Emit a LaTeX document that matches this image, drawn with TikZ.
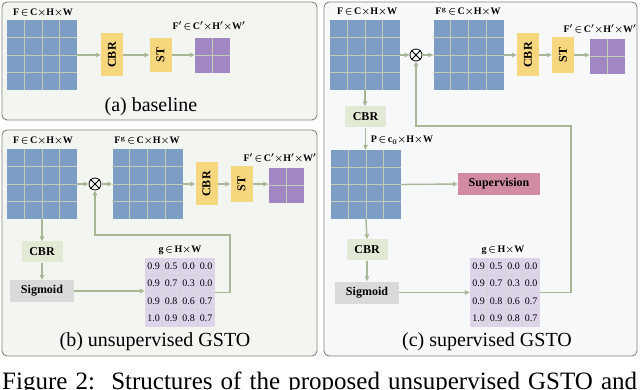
\documentclass[tikz,border=0pt]{standalone}
\usepackage{fontspec}
\setmainfont{Liberation Serif}
\usetikzlibrary{calc,arrows.meta}
\definecolor{blueC}{RGB}{124,157,196}
\definecolor{yellowC}{RGB}{246,215,125}
\definecolor{purpleC}{RGB}{160,135,195}
\definecolor{lpurpleC}{RGB}{221,212,234}
\definecolor{arrowC}{RGB}{168,184,150}
\definecolor{lgreenC}{RGB}{226,233,212}
\definecolor{sigC}{RGB}{218,218,218}
\definecolor{pinkC}{RGB}{210,140,162}
\definecolor{gridC}{RGB}{196,204,182}
\definecolor{gridP}{RGB}{200,200,200}
\definecolor{panelAB}{RGB}{243,245,240}
\definecolor{panelC}{RGB}{246,248,250}
\definecolor{borderC}{RGB}{128,136,122}
\newcommand\gridln[3]{%
  \foreach \k in {1,...,#3}{%
    \draw[line width=0.9pt,#2] ($(#1.north west)!\k/(#3+1)!(#1.north east)$) -- ($(#1.south west)!\k/(#3+1)!(#1.south east)$);
    \draw[line width=0.9pt,#2] ($(#1.north west)!\k/(#3+1)!(#1.south west)$) -- ($(#1.north east)!\k/(#3+1)!(#1.south east)$);
  }}
\newcommand\otimesnode[2]{%
  \node[circle,draw=black,line width=0.8pt,minimum size=12pt,inner sep=0] (#1) at #2 {};
  \draw[line width=0.8pt] (#1.45) -- (#1.225) (#1.135) -- (#1.-45);}
\newcommand\gvals[1]{%
  \foreach \row [count=\r] in {{0.9,0.5,0.0,0.0},{0.9,0.7,0.3,0.0},{0.9,0.8,0.6,0.7},{1.0,0.9,0.8,0.7}}{%
    \foreach \v [count=\c] in \row {%
      \node[numtxt] (#1-\r-\c) at ($(#1.north west)+(\c*17.5-8.75,\r*17.25-8.6)$) {\v};}}}
\newcommand\Fdim{F\,$\in$\,C$\times$H$\times$W}
\newcommand\Fgdim{F$^{\mathbf{g}}$\,$\in$\,C$\times$H$\times$W}
\newcommand\Fpdim{F$'$\,$\in$\,C$'\times$H$'\times$W$'$}
\tikzset{
  panel/.style={draw=borderC,line width=0.9pt,rounded corners=5pt,inner sep=0},
  bgrid/.style={fill=blueC,minimum width=70pt,minimum height=70pt,inner sep=0},
  pgrid/.style={fill=purpleC,minimum width=35pt,minimum height=35pt,inner sep=0},
  ggrid/.style={fill=lpurpleC,minimum width=70pt,minimum height=69pt,inner sep=0},
  ybox/.style={fill=yellowC,minimum width=22pt,inner sep=0,font=\fontsize{12}{14}\selectfont\bfseries},
  gbox/.style={fill=lgreenC,minimum width=41pt,minimum height=21pt,inner sep=0,font=\fontsize{12}{14}\selectfont\bfseries},
  sbox/.style={fill=sigC,minimum width=64pt,minimum height=22pt,inner sep=0,font=\fontsize{12}{14}\selectfont\bfseries},
  supbox/.style={fill=pinkC,minimum width=82pt,minimum height=22pt,inner sep=0,font=\fontsize{12}{14}\selectfont\bfseries},
  arr/.style={draw=arrowC,line width=1.4pt,-{Triangle[length=5pt,width=4.5pt]}},
  lbl/.style={inner sep=0,font=\fontsize{10}{12}\selectfont\bfseries\boldmath},
  numtxt/.style={inner sep=0,font=\fontsize{10}{12}\selectfont},
  captxt/.style={inner sep=0,font=\fontsize{20}{24}\selectfont},
}
\begin{document}
\begin{tikzpicture}[x=1pt,y=-1pt]
\useasboundingbox (0,0) rectangle (640,390);
\clip (0,0) rectangle (640,390);
% panels
\node[panel,fill=panelAB,minimum width=315pt,minimum height=118pt] (pa) at (159.5,61) {};
\node[panel,fill=panelAB,minimum width=315pt,minimum height=226pt] (pb) at (159.5,243) {};
\node[panel,fill=panelC,minimum width=313pt,minimum height=354pt] (pc) at (480.5,179) {};

% ---------- (a) baseline
\node[bgrid] (Fa) at (42,55) {}; \gridln{Fa}{gridC}{3}
\node[ybox,minimum height=43pt] (Ca) at (112,55) {\rotatebox{90}{CBR}};
\node[ybox,minimum height=34pt] (Sa) at (160.5,55) {\rotatebox{90}{ST}};
\node[pgrid] (Pa) at (212.5,55.5) {}; \gridln{Pa}{gridC}{1}
\node[lbl] (LFa) at (43,13) {\Fdim};
\node[lbl] (LPa) at (209,26) {\Fpdim};
\draw[arr] (Fa.east) -- (Ca.west);
\draw[arr] (Ca.east) -- (Sa.west);
\draw[arr] (Sa.east) -- (Sa.east -| Pa.west);
\node[captxt] (capa) at (151,107) {(a) baseline};

% ---------- (b) unsupervised
\node[bgrid] (Fb) at (42,184) {}; \gridln{Fb}{gridC}{3}
\otimesnode{ob}{(95,184)}
\node[bgrid] (Fgb) at (147.5,184) {}; \gridln{Fgb}{gridC}{3}
\node[ybox,minimum height=43pt] (Cb) at (206.5,184) {\rotatebox{90}{CBR}};
\node[ybox,minimum height=36pt] (Sb) at (241.5,184) {\rotatebox{90}{ST}};
\node[pgrid] (Pb) at (286,185.5) {}; \gridln{Pb}{gridC}{1}
\node[lbl] (LFb) at (43,141) {\Fdim};
\node[lbl] (LFgb) at (147,141) {\Fgdim};
\node[lbl] (LPb) at (280,158) {\Fpdim};
\node[gbox] (Gb) at (42,252) {CBR};
\node[sbox] (Sgb) at (42,291) {Sigmoid};
\node[ggrid] (gb) at (180,292.5) {}; \gridln{gb}{white!80!lpurpleC!70!gray}{3}
\gvals{gb}
\node[lbl] (Lgb) at (180,250) {g\,$\in$\,H$\times$W};
\draw[arr] (Fb.east) -- (ob.west);
\draw[arr] (ob.east) -- (Fgb.west);
\draw[arr] (Fgb.east) -- (Cb.west);
\draw[arr] (Cb.east) -- (Sb.west);
\draw[arr] (Sb.east) -- (Sb.east -| Pb.west);
\draw[arr] (Fb.south) -- (Gb.north);
\draw[arr] (Gb.south) -- (Sgb.north);
\draw[arr] (Sgb.east) -- (Sgb.east -| gb.west);
\coordinate (fbb) at (230,235);
\draw[arr] (gb.east) -| (fbb) -| (ob.south);
\node[captxt] (capb) at (155,342) {(b) unsupervised GSTO};

% ---------- (c) supervised
\node[bgrid] (Fc) at (365,55) {}; \gridln{Fc}{gridC}{3}
\otimesnode{oc}{(416,55)}
\node[bgrid] (Fgc) at (468.5,55) {}; \gridln{Fgc}{gridC}{3}
\node[ybox,minimum height=43pt] (Cc) at (528,55) {\rotatebox{90}{CBR}};
\node[ybox,minimum height=36pt] (Sc) at (563,55) {\rotatebox{90}{ST}};
\node[pgrid] (Pc) at (607.5,56.5) {}; \gridln{Pc}{gridC}{1}
\node[lbl] (LFc) at (367,12) {\Fdim};
\node[lbl] (LFgc) at (468,12) {\Fgdim};
\node[lbl] (LPc) at (600,29) {\Fpdim};
\node[gbox] (Gc1) at (365.5,117) {CBR};
\node[bgrid,minimum height=69pt] (Pm) at (366,184.5) {}; \gridln{Pm}{gridC}{3}
\node[lbl] (LPm) at (402,140) {P\,$\in$\,c$_{\mathbf{0}}\times$H$\times$W};
\node[supbox] (Sup) at (499,184) {Supervision};
\node[gbox] (Gc2) at (367,250) {CBR};
\node[sbox] (Sgc) at (367,292.5) {Sigmoid};
\node[ggrid] (gc) at (505,292.5) {}; \gridln{gc}{white!80!lpurpleC!70!gray}{3}
\gvals{gc}
\node[lbl] (Lgc) at (503,250) {g\,$\in$\,H$\times$W};
\draw[arr] (Fc.east) -- (oc.west);
\draw[arr] (oc.east) -- (Fgc.west);
\draw[arr] (Fgc.east) -- (Cc.west);
\draw[arr] (Cc.east) -- (Sc.west);
\draw[arr] (Sc.east) -- (Sc.east -| Pc.west);
\draw[arr] (Fc.south) -- (Fc.south |- Gc1.north);
\draw[arr] (Gc1.south) -- (Gc1.south |- Pm.north);
\draw[arr] (Pm.east) -- (Sup.west);
\draw[arr] (Pm.south) -- (Gc2.north);
\draw[arr] (Gc2.south) -- (Gc2.south |- Sgc.north);
\draw[arr] (Sgc.east) -- (Sgc.east -| gc.west);
\coordinate (fbc) at (571,126);
\draw[arr] (gc.east) -| (fbc) -| (oc.south);
\node[captxt] (capc) at (487,342) {(c) supervised GSTO};

% figure caption
\node[anchor=base west,inner sep=0,font=\fontsize{25}{30}\selectfont] (figcap) at (2,389.5)
  {\makebox[635pt][s]{Figure 2:\ \ Structures of the proposed unsupervised GSTO and}};
\end{tikzpicture}
\end{document}
